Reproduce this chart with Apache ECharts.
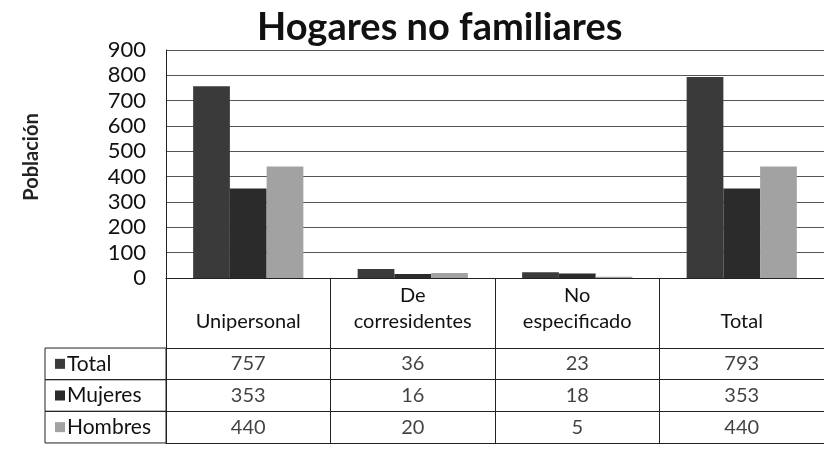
<!DOCTYPE html>
<html>
<head>
<meta charset="utf-8">
<title>Hogares no familiares</title>
<script src="https://cdn.jsdelivr.net/npm/echarts@6/dist/echarts.min.js"></script>
<style>
  html, body { margin: 0; padding: 0; background: #fff; }
  #chart { width: 824px; height: 474px; }
</style>
</head>
<body>
<div id="chart"></div>
<script>
var categories = ['Unipersonal', 'De\ncorresidentes', 'No\nespecificado', 'Total']
var seriesNames = ['Total', 'Mujeres', 'Hombres']
var totalValues = [757, 36, 23, 793]
var mujeresValues = [353, 16, 18, 353]
var hombresValues = [440, 20, 5, 440]
var yTicks = [0, 900, 100] // min, max, interval

var colors = ['#3a3a3a', '#2b2b2b', '#a2a2a2']
var font = 'Lato, "Open Sans", sans-serif'
var rows = [totalValues, mujeresValues, hombresValues]

// celdas de la tabla: [columna, fila, valor]
var cells = []
rows.forEach(function(vals, r) {
  vals.forEach(function(v, c) {
    cells.push([c, r, v])
  })
})

var chart = echarts.init(document.getElementById('chart'))
chart.setOption({
  backgroundColor: '#fff',
  animation: false,
  title: {
    text: 'Hogares no familiares',
    left: 252,
    top: 4,
    textStyle: {
      fontFamily: font,
      fontWeight: 'bold',
      fontSize: 38,
      color: '#111'
    }
  },
  grid: [
    { left: 166, right: -6, top: 50, height: 228 },
    { left: 166, right: -6, top: 348, height: 95 }
  ],
  xAxis: [{
    type: 'category',
    gridIndex: 0,
    data: categories,
    axisLine: { lineStyle: { color: '#222', width: 1 } },
    axisTick: { show: true, interval: 0, length: 70, lineStyle: { color: '#222' } },
    axisLabel: {
      interval: 0,
      margin: 57,
      verticalAlign: 'bottom',
      fontFamily: font,
      fontSize: 20,
      lineHeight: 26,
      color: '#111'
    }
  }, {
    type: 'category',
    gridIndex: 1,
    data: categories,
    axisLine: { show: true, lineStyle: { color: '#222' } },
    axisTick: { show: false },
    axisLabel: { show: false },
    splitLine: { show: true, interval: 0, lineStyle: { color: '#222' } }
  }],
  yAxis: [{
    type: 'value',
    gridIndex: 0,
    min: yTicks[0],
    max: yTicks[1],
    interval: yTicks[2],
    name: 'Población',
    nameLocation: 'middle',
    nameRotate: 90,
    nameGap: 124,
    nameTextStyle: {
      fontFamily: font,
      fontWeight: 'bold',
      fontSize: 20,
      color: '#222',
      padding: [0, 0, 0, 14]
    },
    axisLine: { show: true, lineStyle: { color: '#222' } },
    axisTick: { show: false },
    axisLabel: {
      margin: 20,
      fontFamily: font,
      fontSize: 22,
      color: '#111'
    },
    splitLine: { lineStyle: { color: '#555', width: 1 } }
  }, {
    type: 'category',
    gridIndex: 1,
    inverse: true,
    data: seriesNames,
    axisLine: { show: true, lineStyle: { color: '#222' } },
    axisTick: { show: false },
    splitLine: { show: true, interval: 0, lineStyle: { color: '#222' } },
    axisLabel: {
      interval: 0,
      hideOverlap: false,
      margin: 121,
      align: 'left',
      borderColor: '#222',
      borderWidth: 1,
      padding: [0, 0, 0, 10],
      formatter: function(name) {
        var i = seriesNames.indexOf(name)
        return '{i' + i + '|}{t|' + name + '}'
      },
      rich: {
        i0: { backgroundColor: colors[0], width: 10, height: 10 },
        i1: { backgroundColor: colors[1], width: 10, height: 10 },
        i2: { backgroundColor: colors[2], width: 10, height: 10 },
        t: {
          fontFamily: font,
          fontSize: 21,
          color: '#111',
          width: 99,
          align: 'left',
          lineHeight: 31.6,
          padding: [0, 0, 0, 2]
        }
      }
    }
  }],
  series: [{
    name: seriesNames[0],
    type: 'bar',
    xAxisIndex: 0,
    yAxisIndex: 0,
    data: totalValues,
    barGap: '0%',
    barCategoryGap: '33%',
    itemStyle: { color: colors[0] }
  }, {
    name: seriesNames[1],
    type: 'bar',
    xAxisIndex: 0,
    yAxisIndex: 0,
    data: mujeresValues,
    barGap: '0%',
    barCategoryGap: '33%',
    itemStyle: { color: colors[1] }
  }, {
    name: seriesNames[2],
    type: 'bar',
    xAxisIndex: 0,
    yAxisIndex: 0,
    data: hombresValues,
    barGap: '0%',
    barCategoryGap: '33%',
    itemStyle: { color: colors[2] }
  }, {
    type: 'scatter',
    xAxisIndex: 1,
    yAxisIndex: 1,
    data: cells,
    symbolSize: 1,
    itemStyle: { color: 'rgba(0,0,0,0)' },
    label: {
      show: true,
      position: 'inside',
      fontFamily: font,
      fontSize: 20,
      color: '#111',
      formatter: function(p) { return p.value[2] }
    }
  }]
})
</script>
</body>
</html>
